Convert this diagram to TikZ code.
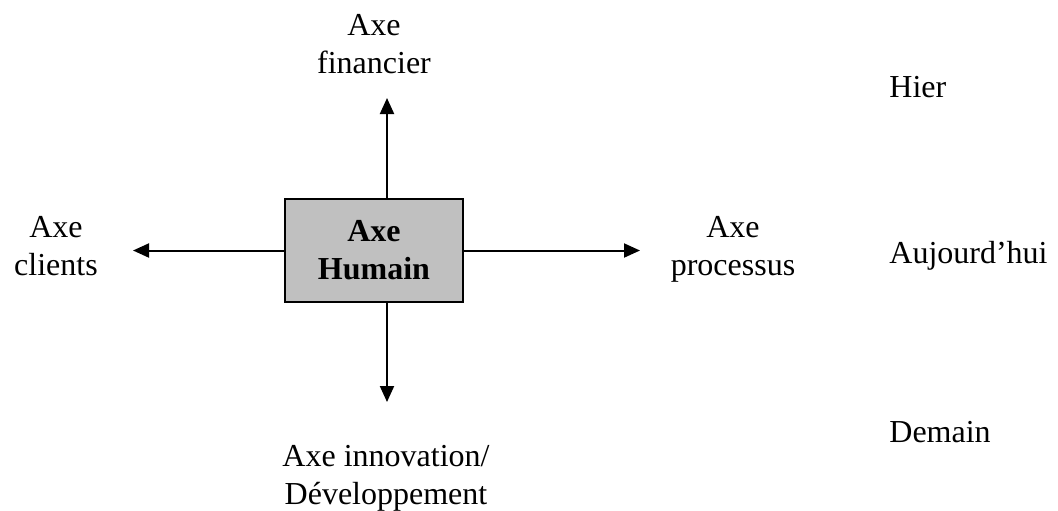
\documentclass[tikz,border=0pt]{standalone}
\usepackage{fontspec}
\setmainfont{Liberation Serif}
\usetikzlibrary{arrows.meta}
\definecolor{boxgray}{RGB}{192,192,192}
\begin{document}
\begin{tikzpicture}[x=0.5pt,y=-0.5pt,
  txt/.style={font=\fontsize{16}{19}\selectfont, align=center, inner sep=0pt},
  lbl/.style={txt, anchor=base},
  side/.style={txt, anchor=base west},
  arr/.style={line width=1pt, -{Triangle[length=8pt,width=7pt]}},
  core/.style={draw, line width=1.3pt, fill=boxgray, minimum width=89pt, minimum height=51.5pt,
    inner sep=0pt, font=\fontsize{16}{19}\selectfont\bfseries, align=center}]
\useasboundingbox (0,0) rectangle (1058,510);
\node[core] (box) at (374,250.5) {Axe\\Humain};
\node[lbl] (fin) at (374,73) {Axe\\financier};
\node[lbl] (cli) at (56,275) {Axe\\clients};
\node[lbl] (pro) at (733,275) {Axe\\processus};
\node[lbl] (inn) at (386,504) {Axe innovation/\\Développement};
\node[side] (hier) at (889,97) {Hier};
\node[side] (auj) at (889,263) {Aujourd’hui};
\node[side] (dem) at (889,442) {Demain};
\coordinate (tU) at (387,98);
\coordinate (tD) at (387,402);
\coordinate (tL) at (133,250.5);
\coordinate (tR) at (640,250.5);
\draw[arr] (box.north -| tU) -- (tU);
\draw[arr] (box.south -| tD) -- (tD);
\draw[arr] (box.west) -- (tL);
\draw[arr] (box.east) -- (tR);
\end{tikzpicture}
\end{document}
